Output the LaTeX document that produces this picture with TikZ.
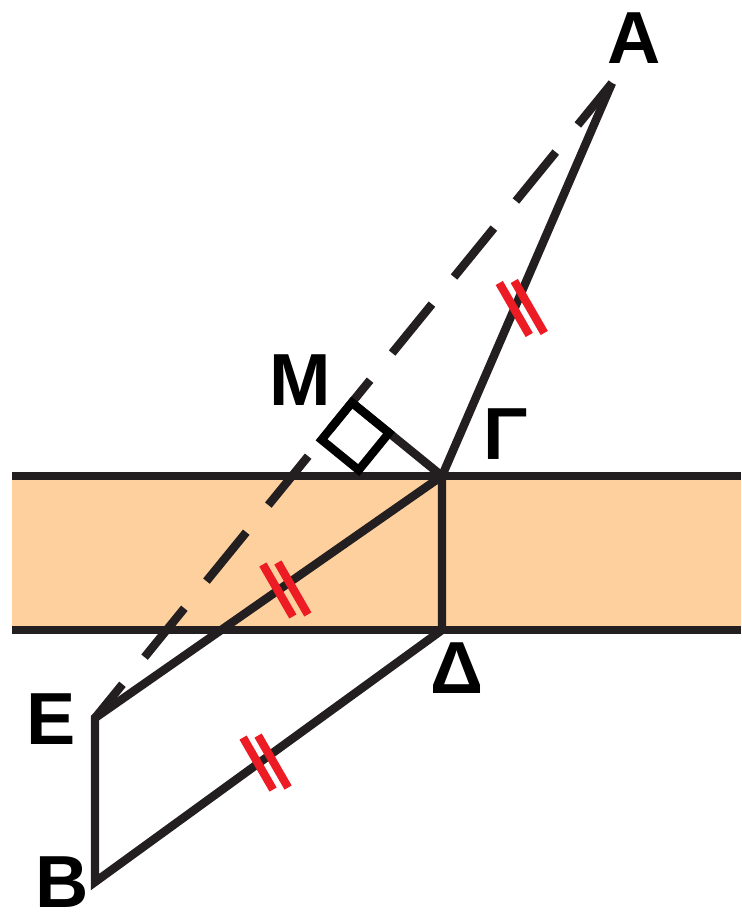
\documentclass[tikz,border=0pt]{standalone}
\usepackage{fontspec}
\setmainfont{Liberation Sans}
\usetikzlibrary{calc}
\definecolor{ink}{RGB}{35,31,32}
\definecolor{stripfill}{RGB}{253,208,158}
\definecolor{tickred}{RGB}{237,28,36}
\tikzset{seg/.style = {draw = ink, line width = 4.8pt, line join = miter}}
\tikzset{hidden/.style = {seg, dash pattern = on 35.9pt off 19.9pt, dash phase = 5.1pt}}
\tikzset{tickbar/.style = {draw = tickred, line width = 4.7pt}}
\tikzset{letter/.style = {inner sep = 0pt, text = black, font = \fontsize{42}{42}\selectfont\bfseries}}
\newcommand{\eqmark}[1]{%
  \draw[tickbar] ($(#1)+(-15,-26)$) -- ++(30,52);
  \draw[tickbar] ($(#1)+(0,-28)$) -- ++(30,52);}

\begin{document}
\begin{tikzpicture}[x = 0.02cm, y = -0.02cm]
\useasboundingbox (0,0) rectangle (741,913);

% the strip
\fill[stripfill] (12,476) rectangle (741,630);
\draw[seg] (12,476) -- (741,476);
\draw[seg] (12,630) -- (741,630);

\coordinate (a) at (612,83);
\coordinate (g) at (442,476);
\coordinate (d) at (442,630);
\coordinate (e) at (95,718);
\coordinate (b) at (95,882);
\coordinate (m) at ($(a)!(g)!(e)$);
\coordinate (m1) at ($(m)!0.96cm!(e)$);
\coordinate (m2) at ($(m)!0.96cm!(g)$);

\draw[hidden] (a) -- (e);
\draw[seg] (a) -- (g) -- (e) -- (b) -- (d) -- (g);
\draw[seg] (g) -- (m);
\draw[seg, draw = black] (m) -- (m1) -- ($(m1)+(m2)-(m)$) -- (m2) -- cycle;

% equal segments
\coordinate (t1) at ($(a)!0.575!(g)$);
\coordinate (t2) at ($(g)!0.473!(e)$);
\coordinate (t3) at ($(d)!0.53!(b)$);
\eqmark{t1}
\eqmark{t2}
\eqmark{t3}

\node[letter] (la) at (634,38) {A};
\node[letter] (lm) at (300,380) {M};
\node[letter] (lg) at (506,434) {Γ};
\node[letter] (ld) at (457,668) {Δ};
\node[letter] (le) at (51,719) {E};
\node[letter] (lb) at (62,882) {B};
\end{tikzpicture}
\end{document}
